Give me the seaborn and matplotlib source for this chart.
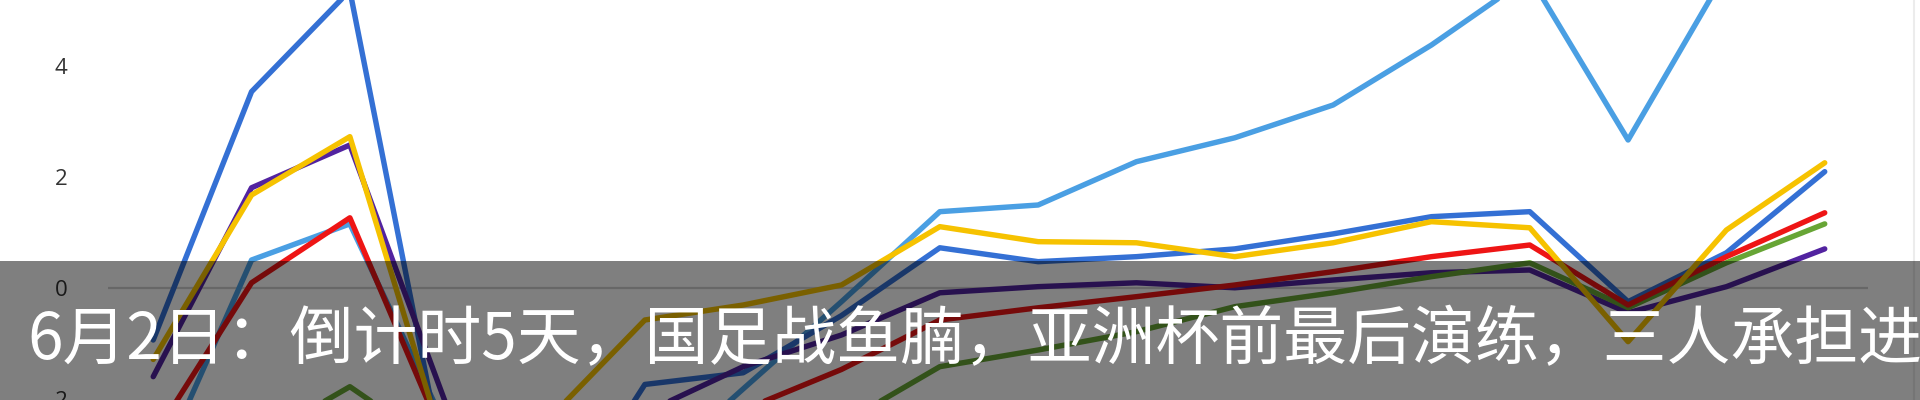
import matplotlib
matplotlib.use("Agg")
import matplotlib.pyplot as plt
from matplotlib.patches import Rectangle
from matplotlib.lines import Line2D
import numpy as np
import pandas as pd
import seaborn as sns

# time steps along the x axis (no labels shown in the picture)
steps = list(range(1, 19))

# series values (values outside the view are guesses)
light_blue = [-3.5, 0.50, 1.15, -2.6, -3.2, -3.4, -1.82, -0.25, 1.37, 1.49,
              2.27, 2.70, 3.29, 4.37, 5.60, 2.66, 5.70, 6.00]
mid_blue = [-0.94, 3.53, 5.35, -3.6, -4.5, -1.74, -1.53, -0.50, 0.72, 0.47,
            0.56, 0.70, 0.97, 1.28, 1.37, -0.25, 0.63, 2.09]
purple = [-1.60, 1.80, 2.57, -2.2, -2.7, -2.25, -1.42, -0.85, -0.09, 0.02,
          0.09, 0.00, 0.14, 0.27, 0.32, -0.45, 0.02, 0.70]
green = [-3.6, -2.8, -1.78, -3.0, -3.5, -3.3, -3.0, -2.45, -1.42, -1.12,
         -0.79, -0.34, -0.09, 0.20, 0.45, -0.36, 0.45, 1.15]
red = [-2.7, 0.09, 1.26, -2.9, -3.4, -3.0, -2.2, -1.47, -0.58, -0.36,
       -0.16, 0.05, 0.29, 0.56, 0.77, -0.31, 0.56, 1.35]
yellow = [-1.29, 1.67, 2.72, -3.1, -2.4, -0.58, -0.31, 0.05, 1.10, 0.83,
          0.81, 0.56, 0.81, 1.19, 1.08, -0.97, 1.04, 2.25]

series_names = ['light_blue', 'mid_blue', 'purple', 'green', 'red', 'yellow']
series_values = [light_blue, mid_blue, purple, green, red, yellow]
colors = ['#4a9fe3', '#3470d4', '#5223a0', '#67a535', '#ee1515', '#f6c200']

y_ticks = [-2, 0, 2, 4]
caption = '6月2日：倒计时5天，国足战鱼腩，亚洲杯前最后演练，三人承担进'

# long-form table for seaborn
rows = []
for name, vals in zip(series_names, series_values):
    for s, v in zip(steps, vals):
        rows.append({'step': s, 'value': v, 'series': name})
df = pd.DataFrame(rows)

sns.set_style('white')

fig = plt.figure(figsize=(19.2, 4), dpi=100)
ax = fig.add_axes([108 / 1920, 0, (1868 - 108) / 1920, 1])

# zero line sits under the data
ax.axhline(0, color='#cfcfcf', lw=1.6, zorder=1)

sns.lineplot(data=df, x='step', y='value', hue='series',
             hue_order=series_names, palette=dict(zip(series_names, colors)),
             linewidth=3.9, legend=False, sort=False, ax=ax,
             solid_capstyle='round', solid_joinstyle='round', zorder=2)

ax.set_xlim(steps[0] - 0.46, steps[-1] + 0.44)
ax.set_ylim(-2.02, 5.18)
ax.set_yticks(y_ticks)
ax.set_yticklabels([str(t) for t in y_ticks], fontsize=16, color='#333333',
                   family='Open Sans')
ax.set_xticks([])
ax.tick_params(axis='y', length=0, pad=29)
ax.set_xlabel('')
ax.set_ylabel('')
for sp in ax.spines.values():
    sp.set_visible(False)

# faint frame edge on the right
fig.add_artist(Line2D([1914 / 1920, 1914 / 1920], [0, 1], color='#ececec',
                      lw=1.5, transform=fig.transFigure))

# dark caption band across the bottom
band_top = (400 - 261) / 400
fig.patches.append(Rectangle((0, 0), 1, band_top, transform=fig.transFigure,
                             facecolor='black', alpha=0.5, edgecolor='none',
                             zorder=10))
fig.text(27 / 1920, (400 - 359) / 400, caption, color='white', fontsize=46,
         family=['Noto Sans CJK SC', 'DejaVu Sans'], va='baseline',
         ha='left', zorder=11)

fig.savefig('out.png', dpi=100)
